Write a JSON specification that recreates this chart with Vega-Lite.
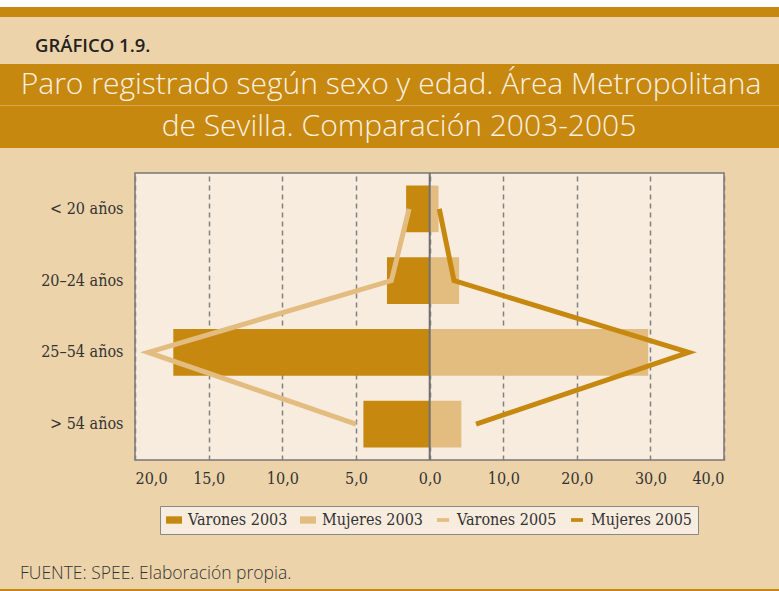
{
  "$schema": "https://vega.github.io/schema/vega-lite/v6.json",
  "background": "#EDD3AA",
  "padding": 0,
  "spacing": 0,
  "config": {"view": {"stroke": null}},
  "resolve": {"scale": {"color": "independent"}, "legend": {"color": "independent"}},
  "vconcat": [
    {"width": 779, "height": 7, "view": {"fill": "#FFFFFF", "stroke": null}, "data": {"values": []}, "mark": "point"},
    {"width": 779, "height": 10, "view": {"fill": "#C6880F", "stroke": null}, "data": {"values": []}, "mark": "point"},
    {
      "width": 779, "height": 47,
      "data": {"values": [{"t": "GRÁFICO 1.9."}]},
      "mark": {"type": "text", "align": "left", "baseline": "middle", "x": 35, "y": 28.5, "font": "Open Sans", "fontWeight": 600, "fontSize": 18.5, "color": "#222222"},
      "encoding": {"text": {"field": "t"}}
    },
    {
      "width": 779, "height": 41, "view": {"fill": "#C6880F", "stroke": null},
      "data": {"values": [{"t": "Paro registrado según sexo y edad. Área Metropolitana"}]},
      "mark": {"type": "text", "align": "center", "baseline": "middle", "x": 391, "y": 21, "font": "Open Sans", "fontWeight": 300, "fontSize": 30, "color": "#FBF1E1"},
      "encoding": {"text": {"field": "t"}}
    },
    {"width": 779, "height": 1, "view": {"fill": "#D9A448", "stroke": null}, "data": {"values": []}, "mark": "point"},
    {
      "width": 779, "height": 42, "view": {"fill": "#C6880F", "stroke": null},
      "data": {"values": [{"t": "de Sevilla. Comparación 2003-2005"}]},
      "mark": {"type": "text", "align": "center", "baseline": "middle", "x": 399, "y": 21, "font": "Open Sans", "fontWeight": 300, "fontSize": 30, "color": "#FBF1E1"},
      "encoding": {"text": {"field": "t"}}
    },
    {"width": 779, "height": 22.5, "data": {"values": []}, "mark": "point"},
    {
      "spacing": 0,
      "resolve": {"scale": {"color": "independent"}, "legend": {"color": "independent"}},
      "hconcat": [
        {"width": 1, "height": 287, "data": {"values": []}, "mark": "point"},
        {
          "width": 589, "height": 287,
          "view": {"fill": "#F8ECDF", "stroke": "#777777", "strokeWidth": 1.5},
          "data": {"values": [
            {"edad": "< 20 años", "serie": "Varones 2003", "valor": -1.6, "orden": 1},
            {"edad": "20–24 años", "serie": "Varones 2003", "valor": -2.9, "orden": 2},
            {"edad": "25–54 años", "serie": "Varones 2003", "valor": -17.4, "orden": 3},
            {"edad": "> 54 años", "serie": "Varones 2003", "valor": -4.5, "orden": 4},
            {"edad": "< 20 años", "serie": "Mujeres 2003", "valor": 1.2, "orden": 1},
            {"edad": "20–24 años", "serie": "Mujeres 2003", "valor": 4.0, "orden": 2},
            {"edad": "25–54 años", "serie": "Mujeres 2003", "valor": 29.7, "orden": 3},
            {"edad": "> 54 años", "serie": "Mujeres 2003", "valor": 4.3, "orden": 4},
            {"edad": "< 20 años", "serie": "Varones 2005", "valor": -1.4, "orden": 1},
            {"edad": "20–24 años", "serie": "Varones 2005", "valor": -2.6, "orden": 2},
            {"edad": "25–54 años", "serie": "Varones 2005", "valor": -19.1, "orden": 3},
            {"edad": "> 54 años", "serie": "Varones 2005", "valor": -5.0, "orden": 4},
            {"edad": "< 20 años", "serie": "Mujeres 2005", "valor": 1.3, "orden": 1},
            {"edad": "20–24 años", "serie": "Mujeres 2005", "valor": 3.3, "orden": 2},
            {"edad": "25–54 años", "serie": "Mujeres 2005", "valor": 35.2, "orden": 3},
            {"edad": "> 54 años", "serie": "Mujeres 2005", "valor": 6.3, "orden": 4}
          ]},
          "layer": [
            {
              "transform": [{"filter": {"field": "serie", "oneOf": ["Varones 2003", "Mujeres 2003"]}}],
              "mark": {"type": "bar"},
              "encoding": {
                "y": {"field": "edad", "type": "nominal", "sort": ["< 20 años", "20–24 años", "25–54 años", "> 54 años"],
                      "scale": {"type": "band", "paddingInner": 0.35, "paddingOuter": 0.175},
                      "axis": {"title": null, "domain": false, "ticks": false, "labelPadding": 12, "labelFont": "DejaVu Serif Condensed, DejaVu Serif", "labelFontSize": 16, "labelColor": "#333333", "minExtent": 133, "maxExtent": 133}},
                "x": {"field": "valor", "type": "quantitative",
                      "scale": {"domain": [-20, 0, 40], "range": [0, 294.7, 589], "nice": false, "zero": false},
                      "axis": {"values": [-20, -15, -10, -5, 0, 10, 20, 30, 40],
                               "labelExpr": "replace(format(abs(datum.value), '.1f'), '.', ',')",
                               "title": null, "domain": false, "ticks": false, "grid": true,
                               "gridColor": "#808080", "gridDash": [5, 4], "gridWidth": 1.5,
                               "labelFont": "DejaVu Serif Condensed, DejaVu Serif", "labelFontSize": 16, "labelColor": "#333333", "labelPadding": 10}},
                "x2": {"datum": 0},
                "color": {"field": "serie", "type": "nominal",
                          "scale": {"domain": ["Varones 2003", "Mujeres 2003", "Varones 2005", "Mujeres 2005"], "range": ["#C6880F", "#E3BC80", "#E3BC80", "#C6880F"]},
                          "legend": {"title": null, "orient": "none", "legendX": 25, "legendY": 333, "direction": "horizontal",
                                     "fillColor": "#F8ECDF", "strokeColor": "#888888", "padding": 6,
                                     "labelFont": "DejaVu Serif Condensed, DejaVu Serif", "labelFontSize": 16, "labelColor": "#333333",
                                     "columnPadding": 12, "symbolSize": 256, "labelOffset": 6,
                                     "encode": {"symbols": {"update": {
                                       "shape": {"signal": "indexof(['Varones 2005','Mujeres 2005'], datum.value) >= 0 ? 'M-0.75,-0.23H0.75V0.23H-0.75Z' : 'M-1,-0.46H1V0.46H-1Z'"},
                                       "fill": {"signal": "(datum.value === 'Varones 2003' || datum.value === 'Mujeres 2005') ? '#C6880F' : '#E3BC80'"},
                                       "stroke": {"value": "transparent"},
                                       "strokeWidth": {"value": 0},
                                       "opacity": {"value": 1}
                                     }}}}}
              }
            },
            {
              "data": {"values": [{"cero": 0}]},
              "mark": {"type": "rule", "color": "#707070", "strokeWidth": 2},
              "encoding": {"x": {"field": "cero", "type": "quantitative"}}
            },
            {
              "transform": [{"filter": {"field": "serie", "oneOf": ["Varones 2005", "Mujeres 2005"]}}],
              "mark": {"type": "line", "strokeWidth": 5, "strokeJoin": "miter", "strokeCap": "butt"},
              "encoding": {
                "y": {"field": "edad", "type": "nominal", "sort": ["< 20 años", "20–24 años", "25–54 años", "> 54 años"]},
                "x": {"field": "valor", "type": "quantitative"},
                "color": {"field": "serie", "type": "nominal"},
                "order": {"field": "orden"}
              }
            }
          ]
        }
      ]
    },
    {
      "width": 779, "height": 53,
      "data": {"values": [{"t": "FUENTE: SPEE. Elaboración propia."}]},
      "mark": {"type": "text", "align": "left", "baseline": "middle", "x": 20, "y": 38, "font": "Open Sans", "fontWeight": 300, "fontSize": 17.5, "color": "#333333"},
      "encoding": {"text": {"field": "t"}}
    },
    {"width": 779, "height": 4, "view": {"fill": "#C6880F", "stroke": null}, "data": {"values": []}, "mark": "point"}
  ]
}
